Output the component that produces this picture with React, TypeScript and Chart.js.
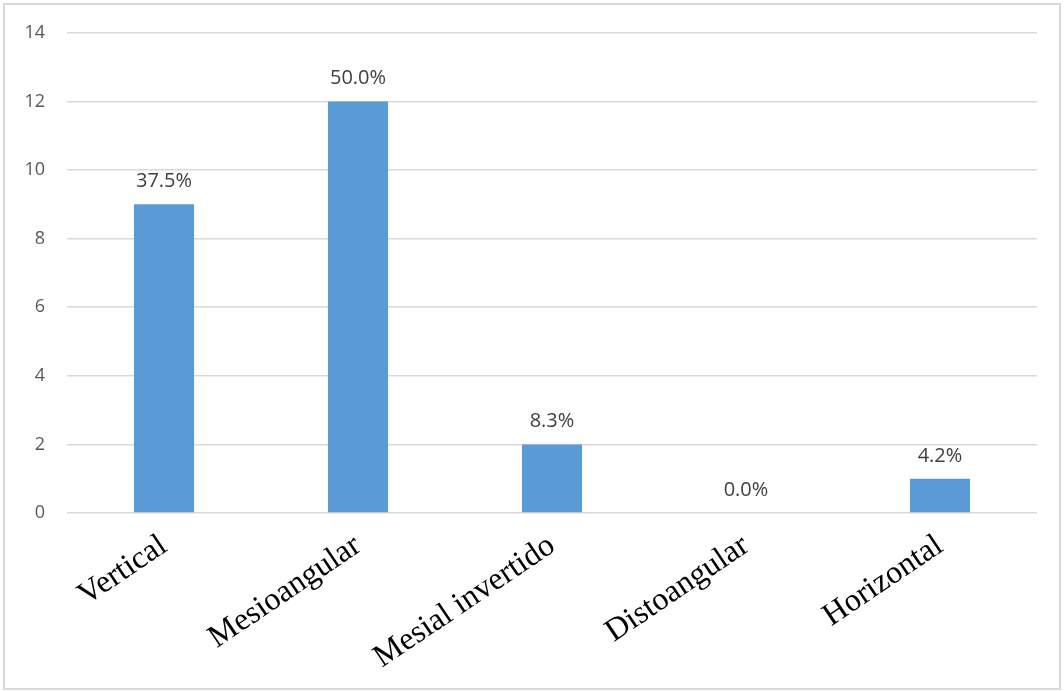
import { useEffect, useRef } from "react";
import { Chart, registerables } from "chart.js";

Chart.register(...registerables);

const categories = ["Vertical", "Mesioangular", "Mesial invertido", "Distoangular", "Horizontal"];
const counts = [9, 12, 2, 0, 1];
const yMin = 0;
const yMax = 14;
const yStep = 2;

const total = counts.reduce((a, b) => a + b, 0);
const percentLabels = counts.map((c) => ((c / total) * 100).toFixed(1) + "%");

// Percentage share written above each bar
const valueLabels = {
  id: "valueLabels",
  afterDatasetsDraw(chart: any) {
    const ctx = chart.ctx;
    const meta = chart.getDatasetMeta(0);
    ctx.save();
    ctx.font = "20px 'Open Sans'";
    ctx.fillStyle = "#404040";
    ctx.textAlign = "center";
    ctx.textBaseline = "alphabetic";
    meta.data.forEach((bar: any, i: number) => {
      ctx.fillText(percentLabels[i], bar.x, bar.y - 17);
    });
    ctx.restore();
  },
};

export default function App() {
  const canvasRef = useRef<HTMLCanvasElement | null>(null);

  useEffect(() => {
    if (!canvasRef.current) return;
    const chart = new Chart(canvasRef.current, {
      type: "bar",
      data: {
        labels: categories,
        datasets: [
          {
            data: counts,
            backgroundColor: "#5b9bd5",
            borderWidth: 0,
            categoryPercentage: 1,
            barPercentage: 0.31,
          },
        ],
      },
      options: {
        responsive: false,
        animation: false,
        layout: { padding: { left: 0, right: 27, top: 32, bottom: 0 } },
        plugins: {
          legend: { display: false },
          tooltip: { enabled: false },
        },
        scales: {
          x: {
            grid: { display: false },
            border: { display: false },
            ticks: {
              autoSkip: false,
              maxRotation: 34,
              minRotation: 34,
              color: "#000000",
              padding: 6,
              font: { family: "'Liberation Serif'", size: 32 },
            },
            afterFit(scale: any) {
              scale.height = 178;
            },
          },
          y: {
            min: yMin,
            max: yMax,
            ticks: {
              stepSize: yStep,
              color: "#595959",
              padding: 22,
              font: { family: "'Open Sans'", size: 18 },
            },
            grid: { color: "#d9d9d9", lineWidth: 1.5, drawTicks: false },
            border: { display: false },
            afterFit(scale: any) {
              scale.width = 67;
            },
          },
        },
      },
      plugins: [valueLabels],
    });
    return () => chart.destroy();
  }, []);

  return (
    <div style={{ position: "fixed", left: 0, top: 0, width: 1064, height: 691, background: "#ffffff" }}>
      <div
        style={{
          position: "absolute",
          left: 3,
          top: 3,
          width: 1058,
          height: 687,
          boxSizing: "border-box",
          border: "2px solid #d9d9d9",
        }}
      />
      <canvas ref={canvasRef} width={1064} height={691} style={{ position: "absolute", left: 0, top: 0 }} />
    </div>
  );
}
